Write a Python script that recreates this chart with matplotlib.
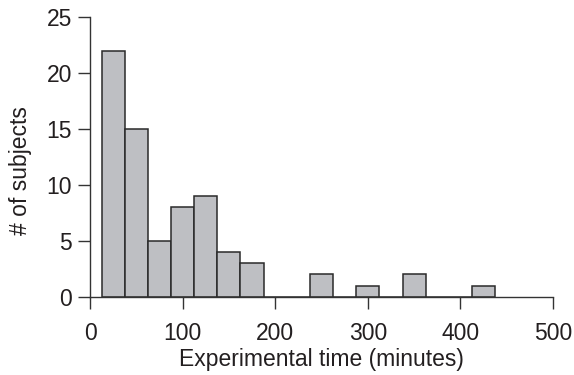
import matplotlib
matplotlib.use("Agg")
import matplotlib.pyplot as plt

# Histogram bins (minutes): bin centres and counts
bin_centers = [25, 50, 75, 100, 125, 150, 175, 200, 225, 250, 275, 300, 325, 350, 375, 400, 425]
counts = [22, 15, 5, 8, 9, 4, 3, 0, 0, 2, 0, 1, 0, 2, 0, 0, 1]
bin_width = 25
x_ticks = [0, 100, 200, 300, 400, 500]
y_ticks = [0, 5, 10, 15, 20, 25]

plt.rcParams['font.family'] = ['Liberation Sans', 'DejaVu Sans']
text_color = '#231f20'
fs = 16.5

fig = plt.figure(figsize=(5.74, 3.75), dpi=100)
ax = fig.add_axes([0.1568, 0.2088, 0.9634 - 0.1568, 0.9539 - 0.2088])

ax.bar(bin_centers, counts, width=bin_width, align='center',
       color='#bebfc3', edgecolor='#2a2a2a', linewidth=1.1, zorder=2)

ax.set_xlim(0, 500)
ax.set_ylim(0, 25)
ax.set_xticks(x_ticks)
ax.set_yticks(y_ticks)

for s in ['top', 'right']:
    ax.spines[s].set_visible(False)
for s in ['left', 'bottom']:
    ax.spines[s].set_linewidth(1.0)
    ax.spines[s].set_color('#333333')

ax.tick_params(axis='both', direction='out', length=8.4, width=1.0,
               color='#333333', labelsize=fs, labelcolor=text_color)
ax.tick_params(axis='x', pad=9.5)
ax.tick_params(axis='y', pad=4.7)

ax.set_xlabel('Experimental time (minutes)', fontsize=fs, color=text_color)
ax.set_ylabel('# of subjects', fontsize=fs, color=text_color)
ax.xaxis.set_label_coords(0.5, -0.183)
ax.yaxis.set_label_coords(-0.125, 0.45)

fig.savefig('out.png', dpi=100)
